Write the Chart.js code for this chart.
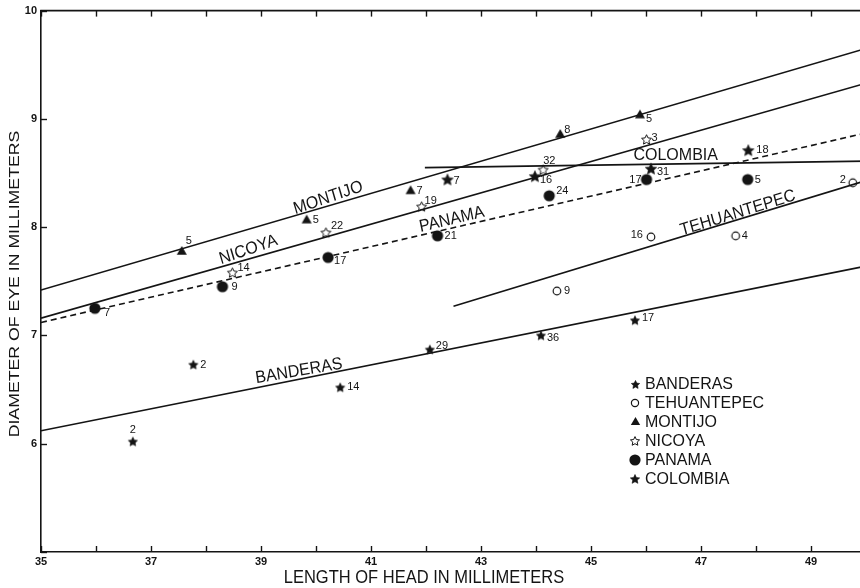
<!DOCTYPE html>
<html>
<head>
<meta charset="utf-8">
<script src="https://cdn.jsdelivr.net/npm/chart.js@4.4.1/dist/chart.umd.min.js"></script>
<style>
html,body{margin:0;padding:0;overflow:hidden;background:#fff;width:860px;height:588px}
#wrap{width:880px;height:588px}
</style>
</head>
<body>
<div id="wrap"><canvas id="c" width="880" height="588"></canvas></div>
<script>
// ---------- DATA ----------
const groupNames = ['BANDERAS', 'TEHUANTEPEC', 'MONTIJO', 'NICOYA', 'PANAMA', 'COLOMBIA'];

const xTicks = [35,36,37,38,39,40,41,42,43,44,45,46,47,48,49,50];
const xTickLabels = [35,37,39,41,43,45,47,49];
const yTicks = [5,6,7,8,9,10];
const yTickLabels = [6,7,8,9,10];

const xTitle = 'LENGTH OF HEAD IN MILLIMETERS';
const yTitle = 'DIAMETER OF EYE IN MILLIMETERS';

// sample means (x = head length, y = eye diameter) and sample sizes
const banderasX = [36.67, 37.77, 40.44, 42.07, 44.09, 45.80];
const banderasY = [6.02, 6.73, 6.52, 6.87, 7.00, 7.14];
const banderasN = [2, 2, 14, 29, 36, 17];

const tehuantepecX = [44.38, 46.09, 47.63, 49.76];
const tehuantepecY = [7.41, 7.91, 7.92, 8.41];
const tehuantepecN = [9, 16, 4, 2];

const montijoX = [37.56, 39.83, 41.72, 44.44, 45.89];
const montijoY = [7.78, 8.07, 8.34, 8.86, 9.04];
const montijoN = [5, 5, 7, 8, 5];

const nicoyaX = [38.48, 40.18, 41.92, 44.13, 46.01];
const nicoyaY = [7.58, 7.95, 8.19, 8.53, 8.81];
const nicoyaN = [14, 22, 19, 32, 3];

const panamaX = [35.98, 38.30, 40.22, 42.21, 44.24, 46.01, 47.85];
const panamaY = [7.25, 7.45, 7.72, 7.92, 8.29, 8.44, 8.44];
const panamaN = [7, 9, 17, 21, 24, 17, 5];

const colombiaX = [42.39, 43.98, 46.09, 47.86];
const colombiaY = [8.44, 8.47, 8.54, 8.71];
const colombiaN = [7, 16, 31, 18];

// fitted regression lines (end points)
const banderasFitX = [35, 50];      const banderasFitY = [6.12, 7.64];
const tehuantepecFitX = [42.5, 50]; const tehuantepecFitY = [7.27, 8.43];
const montijoFitX = [35, 50];       const montijoFitY = [7.42, 9.65];
const nicoyaFitX = [35, 50];        const nicoyaFitY = [7.16, 9.33];
const panamaFitX = [35, 50];        const panamaFitY = [7.12, 8.87];
const colombiaFitX = [41.98, 50];   const colombiaFitY = [8.55, 8.61];

// ---------- STYLE ----------
const INK = '#141414';
const FONT = '"Liberation Sans", Arial, sans-serif';

function starCanvas(R, filled, lw, inner) {
  const s = Math.ceil(2 * R + 2 * lw + 2);
  const c = document.createElement('canvas'); c.width = s; c.height = s;
  const g = c.getContext('2d'); const cx = s / 2, cy = s / 2 + R * 0.08;
  g.beginPath();
  for (let i = 0; i < 10; i++) {
    const r = i % 2 ? R * inner : R;
    const a = -Math.PI / 2 + i * Math.PI / 5;
    g.lineTo(cx + r * Math.cos(a), cy + r * Math.sin(a));
  }
  g.closePath();
  if (filled) { g.fillStyle = INK; g.fill(); g.lineWidth = 0.6; g.strokeStyle = INK; g.stroke(); }
  else { g.lineWidth = lw; g.strokeStyle = INK; g.lineJoin = 'miter'; g.stroke(); }
  return c;
}
function circleCanvas(R, filled, lw) {
  const s = Math.ceil(2 * R + 2 * lw + 2);
  const c = document.createElement('canvas'); c.width = s; c.height = s;
  const g = c.getContext('2d');
  g.beginPath(); g.arc(s / 2, s / 2, R, 0, Math.PI * 2);
  if (filled) { g.fillStyle = INK; g.fill(); }
  else { g.lineWidth = lw; g.strokeStyle = INK; g.stroke(); }
  return c;
}
function triangleCanvas(r) {
  const s = Math.ceil(2 * r + 2);
  const c = document.createElement('canvas'); c.width = s; c.height = s;
  const g = c.getContext('2d'); const cx = s / 2, cy = s / 2 + r * 0.15;
  g.beginPath();
  for (let i = 0; i < 3; i++) {
    const a = -Math.PI / 2 + i * 2 * Math.PI / 3;
    g.lineTo(cx + r * Math.cos(a), cy + r * Math.sin(a));
  }
  g.closePath(); g.fillStyle = INK; g.fill();
  return c;
}

const pointMarks = {
  BANDERAS: starCanvas(4.8, true, 0, 0.5),
  TEHUANTEPEC: circleCanvas(3.8, false, 1.2),
  MONTIJO: triangleCanvas(5.8),
  NICOYA: starCanvas(5.2, false, 1, 0.48),
  PANAMA: circleCanvas(5.6, true, 0),
  COLOMBIA: starCanvas(6.0, true, 0, 0.48)
};
const legendMarks = {
  BANDERAS: starCanvas(4.4, true, 0, 0.5),
  TEHUANTEPEC: circleCanvas(3.6, false, 1.2),
  MONTIJO: triangleCanvas(5.4),
  NICOYA: starCanvas(4.8, false, 1, 0.48),
  PANAMA: circleCanvas(5.6, true, 0),
  COLOMBIA: starCanvas(4.9, true, 0, 0.48)
};

// placement of the sample-size numbers next to each mark: [dx, dy, align]
const countPlacement = {
  BANDERAS: [[0,-12,'center'],[7,0,'left'],[7,0,'left'],[6,-4,'left'],[6,3,'left'],[7,-2,'left']],
  TEHUANTEPEC: [[7,0,'left'],[-8,-2,'right'],[6,0,'left'],[-7,-3,'right']],
  MONTIJO: [[4,-10,'left'],[6,0,'left'],[6,1,'left'],[4,-4,'left'],[6,4,'left']],
  NICOYA: [[5,-5,'left'],[5,-7,'left'],[3,-6,'left'],[0,-9,'left'],[5,-1,'left']],
  PANAMA: [[9,5,'left'],[9,0,'left'],[6,3,'left'],[7,0,'left'],[7,-5,'left'],[-5,0,'right'],[7,0,'left']],
  COLOMBIA: [[6,1,'left'],[5,4,'left'],[6,3,'left'],[8,0,'left']]
};

// names written along the fitted lines: data-space centre and angle
const lineLabels = [
  { text: 'MONTIJO', x: 40.22, y: 8.27, angle: -19 },
  { text: 'NICOYA', x: 38.77, y: 7.79, angle: -19 },
  { text: 'PANAMA', x: 42.47, y: 8.07, angle: -13.6 },
  { text: 'COLOMBIA', x: 46.54, y: 8.66, angle: 0 },
  { text: 'TEHUANTEPEC', x: 47.67, y: 8.13, angle: -17.3 },
  { text: 'BANDERAS', x: 39.69, y: 6.67, angle: -9.7 }
];

// ---------- BUILD DATASETS ----------
const pts = (xs, ys) => xs.map((x, i) => ({ x, y: ys[i] }));
const groups = [
  { name: 'BANDERAS', x: banderasX, y: banderasY, n: banderasN, fx: banderasFitX, fy: banderasFitY, dash: [] },
  { name: 'TEHUANTEPEC', x: tehuantepecX, y: tehuantepecY, n: tehuantepecN, fx: tehuantepecFitX, fy: tehuantepecFitY, dash: [] },
  { name: 'MONTIJO', x: montijoX, y: montijoY, n: montijoN, fx: montijoFitX, fy: montijoFitY, dash: [] },
  { name: 'NICOYA', x: nicoyaX, y: nicoyaY, n: nicoyaN, fx: nicoyaFitX, fy: nicoyaFitY, dash: [] },
  { name: 'PANAMA', x: panamaX, y: panamaY, n: panamaN, fx: panamaFitX, fy: panamaFitY, dash: [6, 4] },
  { name: 'COLOMBIA', x: colombiaX, y: colombiaY, n: colombiaN, fx: colombiaFitX, fy: colombiaFitY, dash: [] }
];

const datasets = [];
groups.forEach(g => {
  datasets.push({
    label: g.name + ' fit', data: pts(g.fx, g.fy), showLine: true,
    borderColor: INK, borderWidth: 1.6, borderDash: g.dash, pointRadius: 0, fill: false, order: 2
  });
});
groups.forEach(g => {
  datasets.push({
    label: g.name, data: pts(g.x, g.y), showLine: false,
    pointStyle: pointMarks[g.name], pointRadius: 5, backgroundColor: INK, borderColor: INK, order: 1,
    counts: g.n
  });
});

// ---------- TEXT HELPER (slightly tall lettering) ----------
function tallText(ctx, txt, x, y, angDeg, size, k, align, baseline, weight) {
  const a = angDeg * Math.PI / 180;
  const t = Math.atan2(Math.sin(a) / k, Math.cos(a));
  ctx.save();
  ctx.translate(x, y); ctx.scale(1, k); ctx.rotate(t);
  ctx.font = (weight || 'normal') + ' ' + size + 'px ' + FONT;
  ctx.textAlign = align || 'center'; ctx.textBaseline = baseline || 'middle';
  ctx.fillStyle = INK;
  ctx.fillText(txt, 0, 0);
  ctx.restore();
}

const decor = {
  id: 'decor',
  afterDraw(chart) {
    const ctx = chart.ctx, xs = chart.scales.x, ys = chart.scales.y, ca = chart.chartArea;
    ctx.save();
    ctx.strokeStyle = INK; ctx.lineCap = 'butt';
    // top frame line
    ctx.beginPath(); ctx.moveTo(ca.left - 0.8, ca.top); ctx.lineTo(ca.right, ca.top); ctx.lineWidth = 1.6; ctx.stroke();
    ctx.lineWidth = 1.4;
    // inward tick marks
    xTicks.forEach(v => {
      const px = Math.round(xs.getPixelForValue(v)) + 0.5;
      ctx.beginPath(); ctx.moveTo(px, ca.bottom); ctx.lineTo(px, ca.bottom - 6); ctx.stroke();
      ctx.beginPath(); ctx.moveTo(px, ca.top); ctx.lineTo(px, ca.top + 6); ctx.stroke();
    });
    yTicks.forEach(v => {
      const py = Math.round(ys.getPixelForValue(v)) + 0.5;
      ctx.beginPath(); ctx.moveTo(ca.left, py); ctx.lineTo(ca.left + 6, py); ctx.stroke();
    });
    ctx.restore();

    // axis titles
    tallText(ctx, xTitle, 424, 578, 0, 16.5, 1.12, 'center', 'middle');
    tallText(ctx, yTitle, 15, 284, -90, 14.5, 1.22, 'center', 'middle');

    // names along the lines
    lineLabels.forEach(l => {
      tallText(ctx, l.text, xs.getPixelForValue(l.x), ys.getPixelForValue(l.y), l.angle, 16, 1.08, 'center', 'middle');
    });

    // sample sizes
    chart.data.datasets.forEach((ds, di) => {
      if (!ds.counts) return;
      const meta = chart.getDatasetMeta(di);
      const place = countPlacement[ds.label];
      meta.data.forEach((el, j) => {
        const p = place[j];
        ctx.save();
        ctx.font = '11px ' + FONT; ctx.fillStyle = INK;
        ctx.textAlign = p[2]; ctx.textBaseline = 'middle';
        ctx.fillText(String(ds.counts[j]), el.x + p[0], el.y + p[1]);
        ctx.restore();
      });
    });

    // legend
    const lx = 635, tx = 645, ly0 = 384, step = 18.9;
    groupNames.forEach((name, i) => {
      const y = ly0 + i * step;
      const m = legendMarks[name];
      ctx.drawImage(m, Math.round(lx - m.width / 2), Math.round(y - m.height / 2));
      tallText(ctx, name, tx, y + 0.5, 0, 16, 1.04, 'left', 'middle');
    });
  }
};

new Chart(document.getElementById('c'), {
  type: 'scatter',
  data: { datasets },
  plugins: [decor],
  options: {
    responsive: false,
    animation: false,
    events: [],
    layout: { padding: { left: 0, right: 14, top: 10, bottom: 0 } },
    plugins: { legend: { display: false }, tooltip: { enabled: false }, title: { display: false } },
    scales: {
      x: {
        type: 'linear', min: 35, max: 50,
        grid: { display: false, drawTicks: false },
        border: { display: true, color: INK, width: 1.6 },
        afterBuildTicks: s => { s.ticks = xTicks.map(v => ({ value: v })); },
        afterFit: s => { s.height = 36; },
        ticks: {
          autoSkip: false, maxRotation: 0, padding: 3, color: INK,
          font: { family: FONT, size: 11, weight: 'bold' },
          callback: v => xTickLabels.includes(v) ? String(v) : ''
        }
      },
      y: {
        type: 'linear', min: 5, max: 10,
        grid: { display: false, drawTicks: false },
        border: { display: true, color: INK, width: 1.6 },
        afterBuildTicks: s => { s.ticks = yTicks.map(v => ({ value: v })); },
        afterFit: s => { s.width = 41; },
        ticks: {
          autoSkip: false, padding: 4, color: INK,
          font: { family: FONT, size: 11, weight: 'bold' },
          callback: v => yTickLabels.includes(v) ? String(v) : ''
        }
      }
    }
  }
});
</script>
</body>
</html>
